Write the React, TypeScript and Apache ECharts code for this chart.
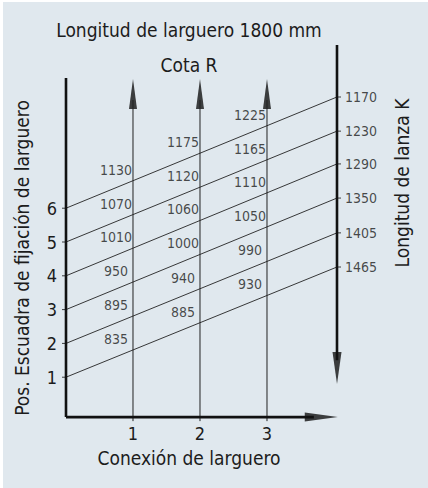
import React, { useEffect, useRef } from "react";
import * as echarts from "echarts";

// ---- data ----
const posLevels = [1, 2, 3, 4, 5, 6];
const lanzaK = [1465, 1405, 1350, 1290, 1230, 1170];
// height (in Pos. units) where each line meets the right (lanza K) axis
const lanzaEnd = [4.26, 5.27, 6.3, 7.31, 8.28, 9.29];
const conexiones = [1, 2, 3];
const cotaR = [
  [835, 885, 930],
  [895, 940, 990],
  [950, 1000, 1050],
  [1010, 1060, 1110],
  [1070, 1120, 1165],
  [1130, 1175, 1225],
];
const xTickLabels = ["1", "2", "3"];
const yTickLabels = ["1", "2", "3", "4", "5", "6"];

const FONT = "'Liberation Sans Narrow', 'DejaVu Sans Condensed', Roboto, sans-serif";
const INK = "#1c1c1c";
const XMAX = 4.045;

export default function App() {
  const ref = useRef<HTMLDivElement>(null);
  useEffect(() => {
    if (!ref.current) return;
    const chart = echarts.init(ref.current, undefined, { renderer: "svg" });
    const yAt = (i: number, x: number) => posLevels[i] + ((lanzaEnd[i] - posLevels[i]) * x) / XMAX;
    const series: any[] = [];
    // diagonal lines
    posLevels.forEach((p, i) => {
      series.push({
        type: "line",
        silent: true,
        symbol: "none",
        clip: false,
        lineStyle: { color: "#222", width: 0.9 },
        data: [
          [0, p],
          [XMAX, lanzaEnd[i]],
        ],
      });
    });
    // vertical lines at conexiones
    conexiones.forEach((c) => {
      series.push({
        type: "line",
        silent: true,
        symbol: "none",
        clip: false,
        lineStyle: { color: "#222", width: 1 },
        data: [
          [c, -0.3],
          [c, 9.2],
        ],
      });
    });
    const thick = { color: "#111", width: 2.6 };
    // left axis
    series.push({ type: "line", silent: true, symbol: "none", clip: false, lineStyle: thick, data: [[0, -0.18], [0, 9.85]] });
    // bottom axis
    series.push({ type: "line", silent: true, symbol: "none", clip: false, lineStyle: thick, data: [[0, -0.18], [3.7, -0.18]] });
    // right axis
    series.push({ type: "line", silent: true, symbol: "none", clip: false, lineStyle: thick, data: [[XMAX, 10.83], [XMAX, 1.5]] });
    // arrowheads
    series.push({
      type: "scatter",
      silent: true,
      clip: false,
      symbol: "triangle",
      symbolSize: [8, 30],
      itemStyle: { color: "#111" },
      data: conexiones.map((c) => [c, 9.38]),
    });
    series.push({
      type: "scatter",
      silent: true,
      clip: false,
      symbol: "triangle",
      symbolSize: [9, 32],
      symbolRotate: 180,
      itemStyle: { color: "#111" },
      data: [[XMAX, 1.27]],
    });
    series.push({
      type: "scatter",
      silent: true,
      clip: false,
      symbol: "triangle",
      symbolSize: [9, 33],
      symbolRotate: -90,
      itemStyle: { color: "#111" },
      data: [[3.81, -0.18]],
    });
    // left ticks
    series.push({
      type: "scatter",
      silent: true,
      clip: false,
      symbol: "rect",
      symbolSize: [4, 1],
      symbolOffset: [-2, 0],
      itemStyle: { color: "#111" },
      data: posLevels.map((p) => [0, p]),
    });
    // cota R labels
    const cotaData: any[] = [];
    posLevels.forEach((p, i) => {
      conexiones.forEach((c, j) => {
        cotaData.push([c, yAt(i, c), cotaR[i][j]]);
      });
    });
    series.push({
      type: "scatter",
      silent: true,
      clip: false,
      symbolSize: 0,
      itemStyle: { color: "transparent" },
      data: cotaData,
      label: {
        show: true,
        position: "inside",
        offset: [-17, -11],
        formatter: (p: any) => String(p.value[2]),
        fontFamily: FONT,
        fontSize: 14,
        color: INK,
        textBorderWidth: 0,
        textBorderColor: "transparent",
      },
    });
    // lanza K labels + ticks
    series.push({
      type: "scatter",
      silent: true,
      clip: false,
      symbol: "rect",
      symbolSize: [4, 1],
      symbolOffset: [2, 0],
      itemStyle: { color: "#111" },
      data: lanzaK.map((k, i) => [XMAX, lanzaEnd[i], k]),
      label: {
        show: true,
        position: "right",
        distance: 4,
        formatter: (p: any) => String(p.value[2]),
        fontFamily: FONT,
        fontSize: 14,
        color: INK,
        textBorderWidth: 0,
      },
    });

    chart.setOption({
      animation: false,
      backgroundColor: "#e0e8ee",
      grid: { left: 66, top: 73, width: 271, height: 338 },
      xAxis: {
        type: "value",
        min: 0,
        max: XMAX,
        interval: 1,
        axisLine: { show: false },
        axisTick: { show: false },
        splitLine: { show: false },
        axisLabel: {
          margin: 13,
          fontFamily: FONT,
          fontSize: 18,
          color: INK,
          formatter: (v: number) => (v >= 1 && v <= 3 ? xTickLabels[v - 1] : ""),
        },
      },
      yAxis: {
        type: "value",
        min: 0,
        max: 10,
        interval: 1,
        axisLine: { show: false },
        axisTick: { show: false },
        splitLine: { show: false },
        axisLabel: {
          margin: 9,
          fontFamily: FONT,
          fontSize: 18,
          color: INK,
          formatter: (v: number) => (v >= 1 && v <= 6 ? yTickLabels[v - 1] : ""),
        },
      },
      graphic: [
        { type: "rect", shape: { x: 0, y: 0, width: 3, height: 488 }, style: { fill: "#fff" }, silent: true },
        { type: "rect", shape: { x: 0, y: 0, width: 428, height: 2 }, style: { fill: "#fff" }, silent: true },
        {
          type: "text",
          x: 189,
          y: 30,
          style: { text: "Longitud de larguero 1800 mm", fontFamily: FONT, fontSize: 19, fill: INK, align: "center", verticalAlign: "middle" },
        },
        {
          type: "text",
          x: 189,
          y: 65,
          style: { text: "Cota R", fontFamily: FONT, fontSize: 19, fill: INK, align: "center", verticalAlign: "middle" },
        },
        {
          type: "text",
          x: 189,
          y: 458,
          style: { text: "Conexión de larguero", fontFamily: FONT, fontSize: 19, fill: INK, align: "center", verticalAlign: "middle" },
        },
        {
          type: "text",
          x: 22,
          y: 258,
          rotation: Math.PI / 2,
          style: { text: "Pos. Escuadra de fijación de larguero", fontFamily: FONT, fontSize: 19, fill: INK, align: "center", verticalAlign: "middle" },
        },
        {
          type: "text",
          x: 402,
          y: 183,
          rotation: Math.PI / 2,
          style: { text: "Longitud de lanza K", fontFamily: FONT, fontSize: 19, fill: INK, align: "center", verticalAlign: "middle" },
        },
      ],
      series,
    });
    return () => chart.dispose();
  }, []);
  return <div ref={ref} style={{ position: "absolute", left: 0, top: 0, width: 428, height: 488 }} />;
}
